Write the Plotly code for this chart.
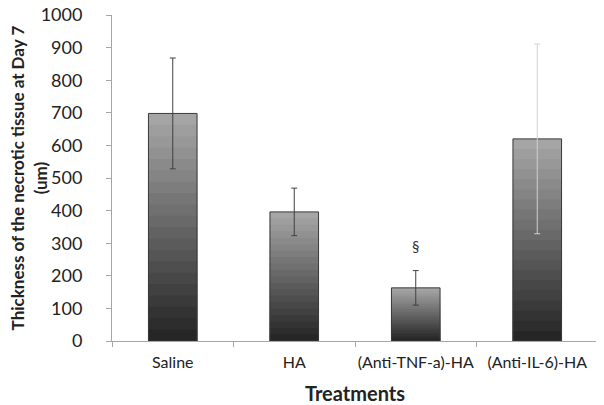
import plotly.graph_objects as go

categories = ["Saline", "HA", "(Anti-TNF-a)-HA", "(Anti-IL-6)-HA"]
values = [698, 396, 163, 620]
errors = [170, 73, 53, 291]
error_colors = ["#404040", "#404040", "#404040", "#d0d0d0"]
marker_text = ["", "", "§", ""]
marker_y = [None, None, 291, None]
y_title = "<b>Thickness of the necrotic tissue at Day 7<br>(um)</b>"

N_BANDS = 20
dark = (38, 38, 38)
light = (165, 165, 165)

fig = go.Figure()
# draw from tallest/lightest to shortest/darkest, all from base 0 (no seams)
for i in range(N_BANDS - 1, -1, -1):
    t = i / (N_BANDS - 1)
    c = tuple(round(dark[k] + (light[k] - dark[k]) * t) for k in range(3))
    fig.add_trace(go.Bar(
        x=categories,
        y=[v * (i + 1) / N_BANDS for v in values],
        base=[0] * len(values),
        marker=dict(color="rgb(%d,%d,%d)" % c, line=dict(width=0)),
        width=0.4, showlegend=False, hoverinfo="skip",
    ))

for j, cat in enumerate(categories):
    fig.add_trace(go.Bar(
        x=[cat], y=[values[j]], base=[0],
        marker=dict(color="rgba(0,0,0,0)", line=dict(color="#3a3a3a", width=1)),
        width=0.4, showlegend=False,
        error_y=dict(type="data", array=[errors[j]], color=error_colors[j],
                     thickness=1, width=3),
    ))

for j, cat in enumerate(categories):
    if marker_text[j]:
        fig.add_annotation(x=cat, y=marker_y[j], text=marker_text[j],
                           showarrow=False, font=dict(size=15, color="#333333"))

fig.add_annotation(xref="paper", yref="paper", x=-0.172, y=0.5,
                   text=y_title, textangle=-90, showarrow=False,
                   xanchor="center", yanchor="middle",
                   font=dict(size=17, color="#222222"))

fig.update_layout(
    barmode="overlay",
    width=596, height=397,
    margin=dict(l=104, r=6, t=7, b=64),
    paper_bgcolor="white", plot_bgcolor="white",
    font=dict(family="Lato", color="#222222"),
    xaxis=dict(
        automargin=False,
        showline=True, linecolor="#a6a6a6", linewidth=1,
        ticks="outside", tickson="boundaries", ticklen=5, tickcolor="#a6a6a6",
        tickfont=dict(size=16), showgrid=False, ticklabelstandoff=7,
        tickangle=0, ticklabeloverflow="allow",
        title=dict(text="<b>Treatments</b>", font=dict(size=20), standoff=17),
    ),
    yaxis=dict(
        automargin=False,
        range=[0, 1000], dtick=100, showline=True, linecolor="#a6a6a6",
        linewidth=1, ticks="outside", ticklen=5, tickcolor="#a6a6a6",
        tickfont=dict(size=18), showgrid=False, zeroline=False,
        ticklabelstandoff=20, ticklabeloverflow="allow",
    ),
)

fig.write_html("out.html")
